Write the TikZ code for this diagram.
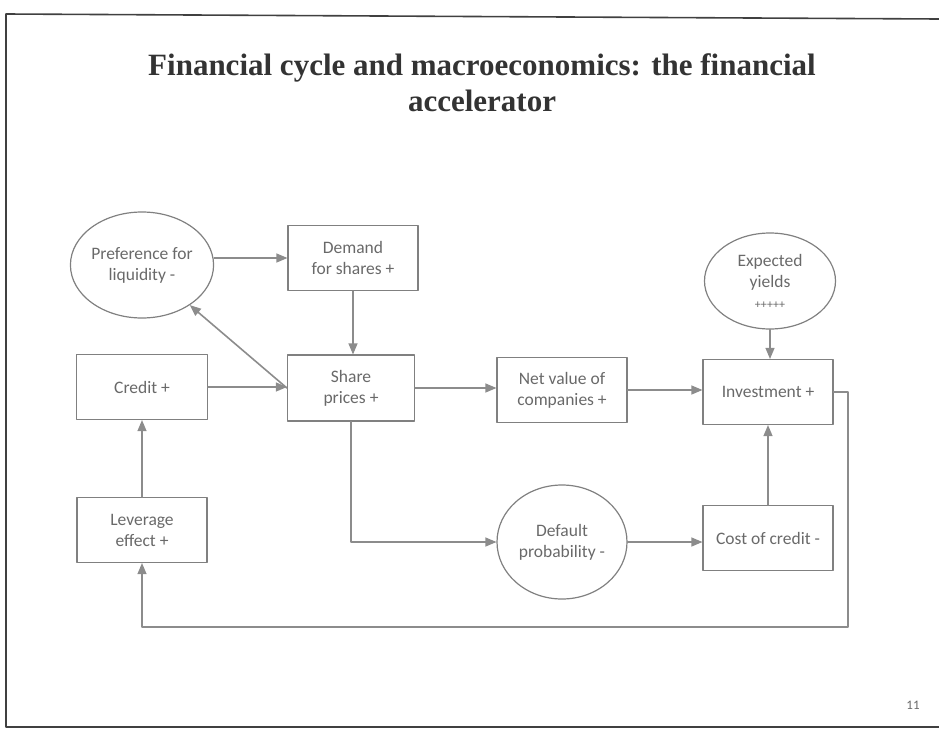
\documentclass[tikz,border=0pt]{standalone}
\usepackage[svgnames]{xcolor}
\usepackage{fontspec}
\setmainfont{Liberation Serif}
\newfontfamily\boxfont{Carlito}
\usetikzlibrary{arrows}
\usetikzlibrary{positioning}
\usetikzlibrary{shapes.geometric}

\begin{document}
\begin{tikzpicture}[x=1pt,y=-1pt,line cap=round,line join=round,>=triangle 45,
  box/.style={draw=Gray,line width=1.2pt,minimum width=130pt,minimum height=65pt,inner sep=1pt,
    align=center,text=DimGray,font=\boxfont\fontsize{17.5}{21}\selectfont},
  bubble/.style={box,ellipse},
  link/.style={->,line width=1.6pt,color=Gray!90}]
\useasboundingbox (0,0) rectangle (939,731);
\draw[line width=1.6pt,color=black!75] (939,19) -- (6,14) -- (6,727) -- (939,727);
\node[font=\bfseries\fontsize{31}{36}\selectfont,text=black!80,align=center] (title) at (482,83)
  {Financial cycle and macroeconomics: the financial\\accelerator};
\node[font=\boxfont\fontsize{13}{15}\selectfont,text=DimGray] (page) at (913,705) {11};
%nodes
\node[bubble,minimum width=132pt,minimum height=106pt,inner sep=0pt] (liquidity) at (142,265) {Preference for\\liquidity -};
\node[box] (demand) at (353,258) {Demand\\for shares +};
\node[box,minimum width=131pt] (credit) at (142,387) {Credit +};
\node[box,minimum width=127pt,minimum height=66pt] (shareprices) at (351,388) {Share\\prices +};
\node[box] (netvalue) at (562,390) {Net value of\\companies +};
\node[box] (investment) at (768,392) {Investment +};
\node[bubble,minimum width=131pt,minimum height=96pt,inner sep=0pt] (yields) at (770,281) {Expected\\yields\\{\fontsize{12}{15}\selectfont +++++}};
\node[box] (leverage) at (142,530) {Leverage\\effect +};
\node[bubble,minimum width=130pt,minimum height=114pt,inner sep=0pt] (default) at (562,542) {Default\\probability -};
\node[box] (cost) at (768,538) {Cost of credit -};
\coordinate (loop) at (848,627);
%connectors
\draw[link] (liquidity.east |- demand.west) -- (demand.west);
\draw[link] (demand.south) -- (demand.south |- shareprices.north);
\draw[link] (shareprices.west) -- (liquidity.-40);
\draw[link] (credit.east) -- (credit.east -| shareprices.west);
\draw[link] (shareprices.east) -- (shareprices.east -| netvalue.west);
\draw[link] (netvalue.east) -- (netvalue.east -| investment.west);
\draw[link] (yields.south) -- (yields.south |- investment.north);
\draw[link] (shareprices.south) |- (default.west);
\draw[link] (default.east) -- (default.east -| cost.west);
\draw[link] (cost.north) -- (cost.north |- investment.south);
\draw[link] (leverage.north) -- (leverage.north |- credit.south);
\draw[link] (investment.east) -| (loop) -| (leverage.south);
\end{tikzpicture}
\end{document}
